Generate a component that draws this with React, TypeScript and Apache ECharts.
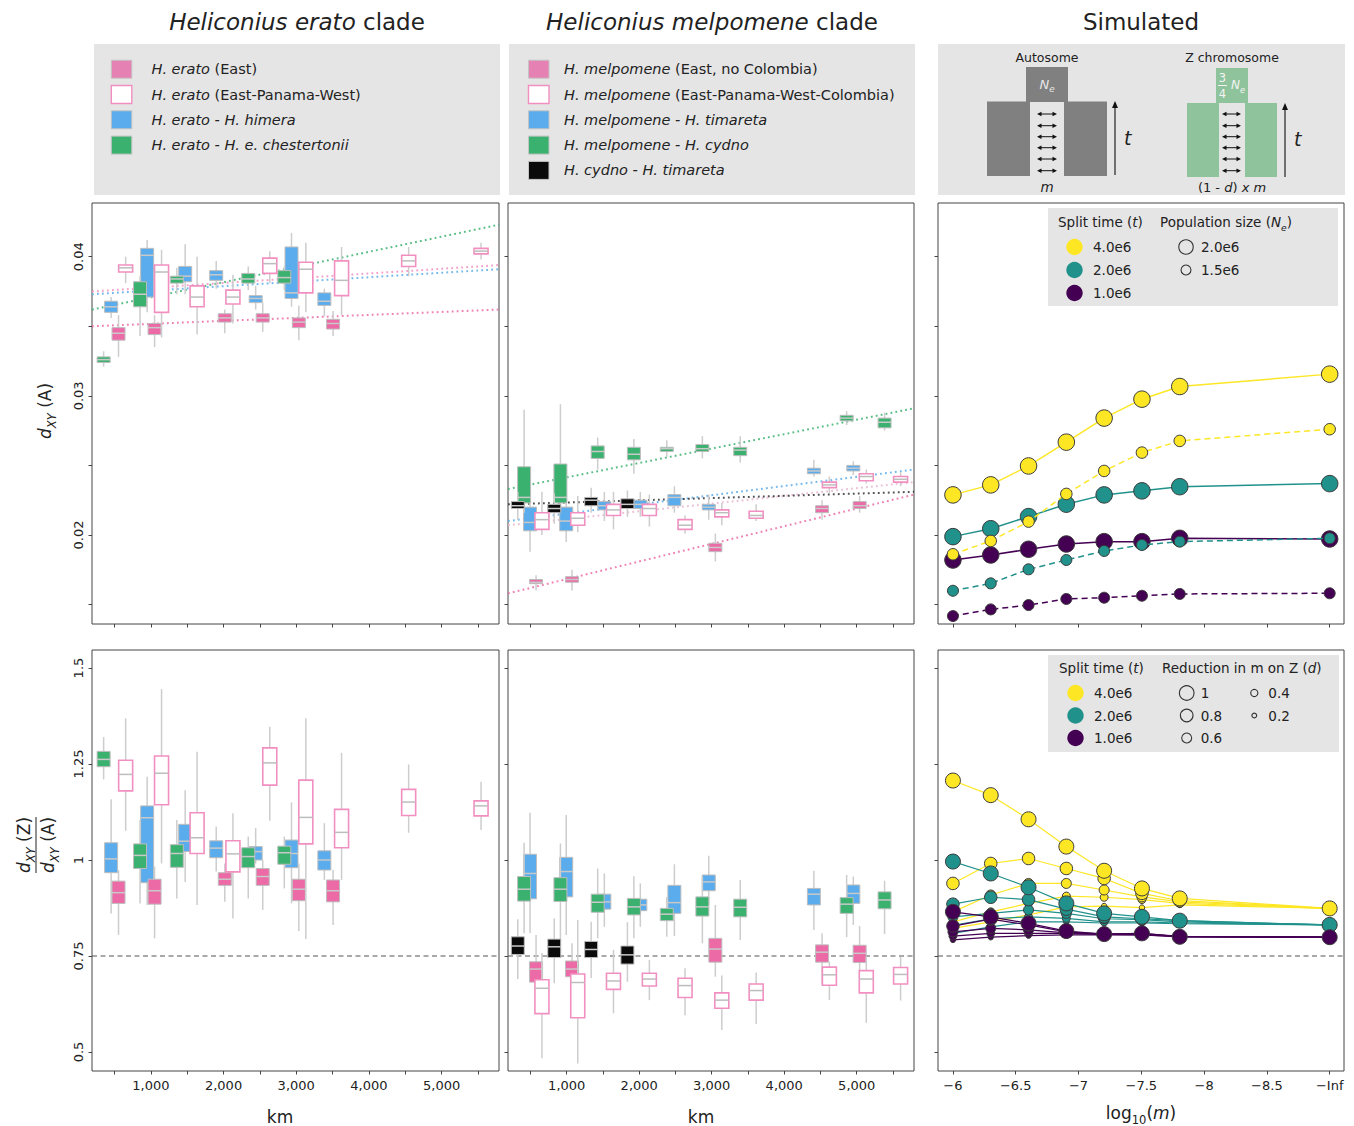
import React, { useEffect, useRef } from 'react';
import * as echarts from 'echarts';

const FONT = 'DejaVu Sans';
const TXT = '#222222';

// ---------- axes ----------
const KM_MIN = 190;
const KM_MAX = 5790;
const kmTicks = [500, 1000, 1500, 2000, 2500, 3000, 3500, 4000, 4500, 5000, 5500];
const kmLabels = [1000, 2000, 3000, 4000, 5000];
const A_MIN = 0.0136;
const A_MAX = 0.04386;
const aTicks = [0.015, 0.02, 0.025, 0.03, 0.035, 0.04];
const aLabels = [0.02, 0.03, 0.04];
const R_MIN = 0.4505;
const R_MAX = 1.547;
const rTicks = [0.5, 0.75, 1, 1.25, 1.5];
const R_REF = 0.75;
const M_MIN = -9.114;
const M_MAX = -5.881;
const mTicks = [-6, -6.5, -7, -7.5, -8, -8.5, -9];
const M_INF = -9; // position of the "-Inf" tick (m = 0)

// ---------- H. erato clade (km, [low, q1, median, q3, high]) ----------
const eratoChestKm = [350, 851, 1357, 2340, 2836];
const eratoChestA = [[0.0321,0.0324,0.0326,0.0328,0.0332],[0.0343,0.0364,0.0373,0.0382,0.0386],[0.0373,0.0381,0.0384,0.0386,0.0392],[0.0376,0.0381,0.0384,0.0388,0.0393],[0.0376,0.0381,0.0385,0.0390,0.0393]];
const eratoChestZ = [[1.210,1.243,1.262,1.283,1.320],[0.887,0.978,1.012,1.042,1.104],[0.900,0.981,1.017,1.040,1.104],[0.900,0.980,1.009,1.032,1.061],[0.926,0.989,1.019,1.036,1.061]];

const eratoHimeraKm = [453, 949, 1472, 1899, 2442, 2935, 3387];
const eratoHimeraA = [[0.0356,0.0360,0.0364,0.0368,0.0371],[0.0360,0.0371,0.0401,0.0406,0.0412],[0.0373,0.0382,0.0386,0.0393,0.0409],[0.0377,0.0383,0.0387,0.0390,0.0397],[0.0362,0.0367,0.0370,0.0372,0.0379],[0.0364,0.0370,0.0374,0.0407,0.0417],[0.0357,0.0365,0.0368,0.0374,0.0377]];
const eratoHimeraZ = [[0.861,0.967,1.003,1.045,1.158],[0.883,0.941,1.110,1.141,1.217],[0.943,1.022,1.049,1.093,1.182],[0.970,1.006,1.031,1.050,1.087],[0.991,1.000,1.022,1.035,1.083],[0.887,0.980,1.017,1.052,1.150],[0.948,0.974,1.000,1.024,1.096]];

const eratoEastKm = [555, 1051, 2017, 2539, 3036, 3507];
const eratoEastA = [[0.0328,0.0340,0.0345,0.0349,0.0358],[0.0335,0.0344,0.0349,0.0352,0.0358],[0.0345,0.0353,0.0356,0.0359,0.0362],[0.0346,0.0353,0.0356,0.0359,0.0367],[0.0340,0.0349,0.0353,0.0356,0.0365],[0.0343,0.0348,0.0352,0.0355,0.0361]];
const eratoEastZ = [[0.805,0.887,0.915,0.945,0.974],[0.796,0.885,0.920,0.950,0.983],[0.891,0.934,0.950,0.967,0.991],[0.870,0.934,0.957,0.978,1.000],[0.815,0.894,0.924,0.950,0.991],[0.831,0.891,0.920,0.948,0.974]];

const eratoEPWKm = [653, 1147, 1636, 2129, 2636, 3132, 3624, 4547, 5543];
const eratoEPWA = [[0.0381,0.0389,0.0392,0.0394,0.0400],[0.0342,0.0360,0.0389,0.0394,0.0405],[0.0344,0.0364,0.0371,0.0379,0.0400],[0.0352,0.0366,0.0371,0.0376,0.0387],[0.0381,0.0388,0.0395,0.0399,0.0404],[0.0360,0.0374,0.0391,0.0396,0.0410],[0.0358,0.0372,0.0383,0.0397,0.0407],[0.0386,0.0393,0.0397,0.0401,0.0407],[0.0398,0.0402,0.0404,0.0406,0.0410]];
const eratoEPWZ = [[1.076,1.180,1.223,1.260,1.369],[0.991,1.144,1.226,1.271,1.445],[0.883,1.017,1.058,1.123,1.282],[0.848,0.969,1.016,1.050,1.122],[1.102,1.195,1.253,1.292,1.347],[0.794,1.042,1.111,1.208,1.369],[0.948,1.032,1.072,1.132,1.279],[1.071,1.116,1.151,1.184,1.249],[1.078,1.115,1.141,1.154,1.204]];

// regression lines (value at KM_MIN, value at KM_MAX)
const eratoTrendChest = [0.0362, 0.0423];
const eratoTrendEPW = [0.0375, 0.0394];
const eratoTrendHimera = [0.0373, 0.0391];
const eratoTrendEast = [0.0350, 0.0362];

// ---------- H. melpomene clade ----------
const cydTimKm = [325, 828, 1337, 1837];
const cydTimA = [[0.0211,0.0219,0.0221,0.0224,0.0231],[0.0208,0.0216,0.0219,0.0222,0.0230],[0.0216,0.0221,0.0225,0.0227,0.0234],[0.0213,0.0219,0.0222,0.0226,0.0232]];
const cydTimZ = [[0.690,0.754,0.776,0.800,0.846],[0.679,0.746,0.774,0.794,0.848],[0.693,0.746,0.767,0.788,0.839],[0.683,0.729,0.753,0.776,0.838]];

const melCydKm = [412, 913, 1427, 1926, 2380, 2871, 3393, 4861, 5384];
const melCydA = [[0.0216,0.0223,0.0227,0.0249,0.0290],[0.0217,0.0223,0.0227,0.0251,0.0294],[0.0247,0.0255,0.0260,0.0264,0.0270],[0.0244,0.0254,0.0258,0.0263,0.0269],[0.0256,0.0260,0.0262,0.0263,0.0268],[0.0255,0.0260,0.0262,0.0265,0.0271],[0.0252,0.0257,0.0261,0.0263,0.0271],[0.0279,0.0282,0.0284,0.0286,0.0289],[0.0275,0.0277,0.0281,0.0284,0.0288]];
const melCydZ = [[0.809,0.893,0.924,0.957,1.045],[0.792,0.892,0.924,0.954,1.043],[0.796,0.864,0.890,0.911,0.978],[0.796,0.857,0.878,0.900,0.958],[0.800,0.842,0.859,0.874,0.904],[0.783,0.854,0.878,0.904,0.957],[0.792,0.852,0.877,0.898,0.948],[0.799,0.861,0.885,0.902,0.961],[0.807,0.873,0.896,0.917,0.946]];

const melTimKm = [494, 993, 1519, 2015, 2485, 2959, 4409, 4953];
const melTimA = [[0.0188,0.0203,0.0209,0.0220,0.0231],[0.0195,0.0203,0.0210,0.0220,0.0229],[0.0210,0.0218,0.0221,0.0224,0.0231],[0.0213,0.0219,0.0222,0.0225,0.0231],[0.0216,0.0221,0.0227,0.0229,0.0235],[0.0211,0.0218,0.0220,0.0222,0.0229],[0.0242,0.0244,0.0246,0.0248,0.0254],[0.0243,0.0246,0.0248,0.0250,0.0253]];
const melTimZ = [[0.810,0.899,0.965,1.015,1.123],[0.805,0.904,0.970,1.007,1.117],[0.826,0.872,0.891,0.911,0.965],[0.826,0.868,0.883,0.898,0.939],[0.802,0.861,0.889,0.934,0.989],[0.883,0.920,0.943,0.961,1.011],[0.818,0.883,0.911,0.926,0.972],[0.831,0.887,0.913,0.935,0.957]];

const melEastKm = [577, 1073, 3050, 4522, 5040];
const melEastA = [[0.0160,0.0165,0.0166,0.0168,0.0171],[0.0160,0.0166,0.0168,0.0170,0.0175],[0.0181,0.0188,0.0191,0.0194,0.0201],[0.0211,0.0216,0.0219,0.0221,0.0225],[0.0216,0.0219,0.0221,0.0224,0.0228]];
const melEastZ = [[0.635,0.682,0.716,0.735,0.805],[0.644,0.696,0.716,0.737,0.783],[0.696,0.734,0.768,0.796,0.883],[0.676,0.734,0.760,0.779,0.809],[0.661,0.733,0.757,0.778,0.828]];

const melEPWCKm = [658, 1152, 1645, 2140, 2632, 3139, 3613, 4623, 5132, 5605];
const melEPWCA = [[0.0200,0.0204,0.0211,0.0216,0.0231],[0.0202,0.0207,0.0212,0.0216,0.0228],[0.0204,0.0214,0.0218,0.0222,0.0231],[0.0206,0.0214,0.0219,0.0222,0.0229],[0.0201,0.0204,0.0207,0.0211,0.0214],[0.0207,0.0213,0.0216,0.0218,0.0223],[0.0210,0.0212,0.0214,0.0217,0.0222],[0.0230,0.0234,0.0236,0.0238,0.0242],[0.0237,0.0239,0.0242,0.0244,0.0247],[0.0235,0.0238,0.0240,0.0242,0.0245]];
const melEPWCZ = [[0.484,0.600,0.666,0.688,0.758],[0.470,0.589,0.681,0.703,0.844],[0.601,0.663,0.685,0.705,0.766],[0.635,0.672,0.690,0.705,0.740],[0.596,0.642,0.673,0.692,0.718],[0.557,0.614,0.635,0.654,0.699],[0.573,0.635,0.660,0.677,0.707],[0.635,0.674,0.701,0.721,0.735],[0.576,0.654,0.690,0.712,0.748],[0.634,0.677,0.702,0.720,0.748]];

const melTrendCyd = [0.0233, 0.0291];
const melTrendTim = [0.0210, 0.0247];
const melTrendEPWC = [0.0207, 0.0238];
const melTrendCydTim = [0.0222, 0.0231];
const melTrendEast = [0.0158, 0.0229];

// ---------- Simulated ----------
const logM = [-6, -6.301, -6.602, -6.903, -7.204, -7.505, -7.806, M_INF];
const splitTimes = ['4.0e6', '2.0e6', '1.0e6'];
const aT4Ne20 = [0.02288, 0.0236, 0.02496, 0.02667, 0.0284, 0.02976, 0.03067, 0.03156];
const aT4Ne15 = [0.01861, 0.01957, 0.02096, 0.02295, 0.0246, 0.02592, 0.02676, 0.0276];
const aT2Ne20 = [0.01988, 0.02045, 0.02132, 0.02221, 0.02288, 0.02317, 0.02347, 0.02369];
const aT2Ne15 = [0.01599, 0.01652, 0.01753, 0.0182, 0.01885, 0.01928, 0.01952, 0.01976];
const aT1Ne20 = [0.0182, 0.01856, 0.01897, 0.01935, 0.01952, 0.01952, 0.01976, 0.01971];
const aT1Ne15 = [0.01417, 0.01465, 0.01496, 0.0154, 0.01549, 0.01563, 0.01576, 0.01581];

const dValues = ['1', '0.8', '0.6', '0.4', '0.2'];
const rT4 = [
  [1.207, 1.169, 1.106, 1.035, 0.972, 0.926, 0.900, 0.874],
  [0.939, 0.991, 1.004, 0.978, 0.952, 0.913, 0.894, 0.874],
  [0.865, 0.909, 0.939, 0.939, 0.922, 0.904, 0.891, 0.874],
  [0.839, 0.865, 0.887, 0.906, 0.903, 0.897, 0.887, 0.874],
  [0.822, 0.839, 0.857, 0.878, 0.880, 0.876, 0.883, 0.874],
];
const rT2 = [
  [0.996, 0.965, 0.929, 0.887, 0.861, 0.852, 0.842, 0.831],
  [0.885, 0.903, 0.897, 0.872, 0.852, 0.847, 0.842, 0.831],
  [0.852, 0.861, 0.870, 0.861, 0.847, 0.845, 0.839, 0.831],
  [0.830, 0.847, 0.852, 0.848, 0.839, 0.839, 0.836, 0.831],
  [0.809, 0.826, 0.839, 0.839, 0.836, 0.836, 0.834, 0.831],
];
const rT1 = [
  [0.865, 0.852, 0.835, 0.815, 0.807, 0.809, 0.800, 0.799],
  [0.828, 0.846, 0.831, 0.813, 0.807, 0.809, 0.801, 0.799],
  [0.813, 0.822, 0.818, 0.810, 0.807, 0.807, 0.801, 0.799],
  [0.802, 0.809, 0.809, 0.809, 0.806, 0.805, 0.801, 0.799],
  [0.792, 0.799, 0.803, 0.805, 0.805, 0.805, 0.800, 0.799],
];

// ---------- styles ----------
const C_PINK = '#ec6aa6';
const C_PINK_LEG = '#e581b3';
const C_PINK_OPEN = '#f28fc1';
const C_BLUE = '#5aacec';
const C_GREEN = '#3bb16f';
const C_BLACK = '#0a0a0a';
const V_YEL = '#fde725';
const V_TEAL = '#21918c';
const V_PURP = '#440154';
const tColors = [V_YEL, V_TEAL, V_PURP];
const dSizes = [15, 12.5, 10, 8, 5.5];

const BOX = {
  pinkFill: { fill: C_PINK, stroke: '#bdbdbd', lw: 1, w: 13, median: '#c9c9c9' },
  pinkOpen: { fill: '#ffffff', stroke: C_PINK_OPEN, lw: 1.6, w: 14, median: '#bdbdbd' },
  blue: { fill: C_BLUE, stroke: '#bdbdbd', lw: 1, w: 13, median: '#c9c9c9' },
  green: { fill: C_GREEN, stroke: '#bdbdbd', lw: 1, w: 13, median: '#c9c9c9' },
  black: { fill: C_BLACK, stroke: '#bdbdbd', lw: 1, w: 13, median: '#c9c9c9' },
};

const GRIDS = [
  { left: 92, top: 203, width: 407, height: 421 },
  { left: 508, top: 203, width: 406, height: 421 },
  { left: 938, top: 203, width: 406, height: 421 },
  { left: 92, top: 650, width: 407, height: 421 },
  { left: 508, top: 650, width: 406, height: 421 },
  { left: 938, top: 650, width: 406, height: 421 },
];

const makeBox = (st: any) => (_p: any, api: any) => {
  const x = api.value(0);
  const lo = api.coord([x, api.value(1)]);
  const q1 = api.coord([x, api.value(2)]);
  const md = api.coord([x, api.value(3)]);
  const q3 = api.coord([x, api.value(4)]);
  const hi = api.coord([x, api.value(5)]);
  const cx = lo[0];
  const hw = st.w / 2;
  return {
    type: 'group',
    children: [
      { type: 'line', shape: { x1: cx, y1: hi[1], x2: cx, y2: lo[1] }, style: { stroke: '#cdcdcd', lineWidth: 1.5 } },
      { type: 'rect', shape: { x: cx - hw, y: q3[1], width: st.w, height: Math.max(q1[1] - q3[1], 1) }, style: { fill: st.fill, stroke: st.stroke, lineWidth: st.lw } },
      { type: 'line', shape: { x1: cx - hw, y1: md[1], x2: cx + hw, y2: md[1] }, style: { stroke: st.median, lineWidth: 1.5 } },
    ],
  };
};

const boxSeries = (axis: number, km: number[], vals: number[][], kind: keyof typeof BOX) => ({
  type: 'custom',
  xAxisIndex: axis,
  yAxisIndex: axis,
  clip: true,
  silent: true,
  data: km.map((k, i) => [k, ...vals[i]]),
  encode: { x: 0, y: [1, 2, 3, 4, 5] },
  renderItem: makeBox(BOX[kind]),
});

const trendSeries = (axis: number, ends: number[], color: string) => ({
  type: 'line',
  xAxisIndex: axis,
  yAxisIndex: axis,
  silent: true,
  showSymbol: false,
  symbol: 'none',
  data: [[KM_MIN, ends[0]], [KM_MAX, ends[1]]],
  lineStyle: { color, width: 2, type: [1.8, 3.2], opacity: 0.85 },
  z: 1,
});

const refLine = (axis: number, x0: number, x1: number) => ({
  type: 'line',
  xAxisIndex: axis,
  yAxisIndex: axis,
  silent: true,
  symbol: 'none',
  data: [[x0, R_REF], [x1, R_REF]],
  lineStyle: { color: '#555555', width: 1.2, type: [5, 3.5] },
  z: 1,
});

const simSeries = (axis: number, vals: number[], color: string, size: number, dashed: boolean, lw: number, z: number) => ({
  type: 'line',
  xAxisIndex: axis,
  yAxisIndex: axis,
  silent: true,
  data: logM.map((m, i) => [m, vals[i]]),
  symbol: 'circle',
  symbolSize: size,
  showSymbol: true,
  lineStyle: { color, width: lw, type: dashed ? [6, 4] : 'solid' },
  itemStyle: { color, borderColor: '#3a3a3a', borderWidth: 1 },
  z,
});

const kmX = (grid: number, labels: boolean) => ({
  type: 'value', gridIndex: grid, min: KM_MIN, max: KM_MAX,
  axisLine: { show: false }, splitLine: { show: false },
  axisTick: { show: true, customValues: kmTicks, length: 3.5, lineStyle: { color: '#444' } },
  axisLabel: { show: labels, customValues: kmLabels, fontSize: 13, color: TXT, fontFamily: FONT, margin: 8,
    formatter: (v: number) => Math.round(v).toLocaleString('en-US') },
});
const mX = (grid: number, labels: boolean) => ({
  type: 'value', gridIndex: grid, min: M_MIN, max: M_MAX, inverse: true,
  axisLine: { show: false }, splitLine: { show: false },
  axisTick: { show: true, customValues: mTicks, length: 3.5, lineStyle: { color: '#444' } },
  axisLabel: { show: labels, customValues: mTicks, fontSize: 13, color: TXT, fontFamily: FONT, margin: 8,
    formatter: (v: number) => (v === M_INF ? '\u2212Inf' : '\u2212' + String(Math.abs(v))) },
});
const aY = (grid: number, labels: boolean) => ({
  type: 'value', gridIndex: grid, min: A_MIN, max: A_MAX,
  axisLine: { show: false }, splitLine: { show: false },
  axisTick: { show: true, customValues: aTicks, length: 3.5, lineStyle: { color: '#444' } },
  axisLabel: { show: labels, customValues: aLabels, rotate: 90, fontSize: 13, color: TXT, fontFamily: FONT, margin: 7,
    formatter: (v: number) => String(+v.toFixed(3)) },
});
const rY = (grid: number, labels: boolean) => ({
  type: 'value', gridIndex: grid, min: R_MIN, max: R_MAX,
  axisLine: { show: false }, splitLine: { show: false },
  axisTick: { show: true, customValues: rTicks, length: 3.5, lineStyle: { color: '#444' } },
  axisLabel: { show: labels, customValues: rTicks, rotate: 90, fontSize: 13, color: TXT, fontFamily: FONT, margin: 7,
    formatter: (v: number) => String(+v.toFixed(2)) },
});

// ---------- graphic helpers ----------
const tok = (size: number, extra: any = {}) => ({ fontSize: size, fontFamily: FONT, fill: extra.fill || TXT, ...extra });
const richSet = (size: number, fill: string = TXT) => ({
  i: tok(size, { fontStyle: 'italic', fill, lineHeight: size * 1.5 }),
  n: tok(size, { fill, lineHeight: size * 1.5 }),
  s: tok(size * 0.68, { fill, lineHeight: size * 0.68, verticalAlign: 'bottom' }),
  si: tok(size * 0.68, { fill, fontStyle: 'italic', lineHeight: size * 0.68, verticalAlign: 'bottom' }),
});
const txt = (x: number, y: number, text: string, size: number, opt: any = {}) => ({
  type: 'text', x, y, z: 30, rotation: opt.rotation || 0,
  style: {
    text, rich: richSet(size, opt.fill || TXT), fontSize: size, fontFamily: FONT, fill: opt.fill || TXT,
    fontStyle: opt.italic ? 'italic' : 'normal', lineHeight: size * 1.5,
    align: opt.align || 'left', verticalAlign: 'middle',
  },
});

const eratoLegend: [keyof typeof BOX, string][] = [
  ['pinkFill', '{i|H. erato} (East)'],
  ['pinkOpen', '{i|H. erato} (East-Panama-West)'],
  ['blue', '{i|H. erato - H. himera}'],
  ['green', '{i|H. erato - H. e. chestertonii}'],
];
const melLegend: [keyof typeof BOX, string][] = [
  ['pinkFill', '{i|H. melpomene} (East, no Colombia)'],
  ['pinkOpen', '{i|H. melpomene} (East-Panama-West-Colombia)'],
  ['blue', '{i|H. melpomene - H. timareta}'],
  ['green', '{i|H. melpomene - H. cydno}'],
  ['black', '{i|H. cydno - H. timareta}'],
];
const LEG_ROW0 = 69.2;
const LEG_STEP = 25.3;

const legendItems = (entries: [keyof typeof BOX, string][], sqX: number, txX: number) => {
  const out: any[] = [];
  entries.forEach(([kind, label], i) => {
    const cy = LEG_ROW0 + i * LEG_STEP;
    const st = BOX[kind];
    const fill = kind === 'pinkFill' ? C_PINK_LEG : st.fill;
    out.push({ type: 'rect', z: 20, shape: { x: sqX, y: cy - 9, width: 20.5, height: 18 },
      style: { fill, stroke: kind === 'pinkOpen' ? C_PINK_OPEN : '#c4c4c4', lineWidth: kind === 'pinkOpen' ? 1.4 : 1 } });
    out.push(txt(txX, cy, label, 14.5));
  });
  return out;
};

const arrowYs = [114, 125.7, 136.7, 147.7, 159, 170.7];
const dblArrow = (x1: number, x2: number, y: number) => [
  { type: 'line', z: 22, shape: { x1: x1 + 3, y1: y, x2: x2 - 3, y2: y }, style: { stroke: '#111', lineWidth: 1 } },
  { type: 'polygon', z: 22, shape: { points: [[x1, y], [x1 + 4.5, y - 2.3], [x1 + 4.5, y + 2.3]] }, style: { fill: '#111' } },
  { type: 'polygon', z: 22, shape: { points: [[x2, y], [x2 - 4.5, y - 2.3], [x2 - 4.5, y + 2.3]] }, style: { fill: '#111' } },
];
const upArrow = (x: number, yTop: number, yBot: number) => [
  { type: 'line', z: 22, shape: { x1: x, y1: yBot, x2: x, y2: yTop + 5 }, style: { stroke: '#111', lineWidth: 1.1 } },
  { type: 'polygon', z: 22, shape: { points: [[x, yTop], [x - 3, yTop + 7], [x + 3, yTop + 7]] }, style: { fill: '#111' } },
];

const diagram = () => {
  const g: any[] = [];
  const GREY = '#808080';
  const GRN = '#8fc39b';
  // autosome
  g.push({ type: 'rect', z: 21, shape: { x: 1026, y: 67, width: 42, height: 35 }, style: { fill: GREY } });
  g.push({ type: 'rect', z: 21, shape: { x: 987, y: 101.5, width: 43, height: 74.5 }, style: { fill: GREY } });
  g.push({ type: 'rect', z: 21, shape: { x: 1064, y: 101.5, width: 43, height: 74.5 }, style: { fill: GREY } });
  g.push(txt(1047, 84, '{i|N}{si|e}', 13, { align: 'center', fill: '#e6e6e6' }));
  arrowYs.forEach((y) => g.push(...dblArrow(1037, 1057, y)));
  g.push(...upArrow(1115, 101, 175));
  g.push(txt(1124, 138, '{i|t}', 19));
  g.push(txt(1047, 57, 'Autosome', 12.5, { align: 'center' }));
  g.push(txt(1047, 187, '{i|m}', 13.5, { align: 'center' }));
  // Z chromosome
  g.push({ type: 'rect', z: 21, shape: { x: 1216, y: 68, width: 32, height: 35 }, style: { fill: GRN } });
  g.push({ type: 'rect', z: 21, shape: { x: 1187, y: 103, width: 32, height: 74 }, style: { fill: GRN } });
  g.push({ type: 'rect', z: 21, shape: { x: 1245, y: 103, width: 32, height: 74 }, style: { fill: GRN } });
  g.push(txt(1222.5, 78, '3', 11.5, { align: 'center', fill: '#f4f4f4' }));
  g.push({ type: 'line', z: 22, shape: { x1: 1218, y1: 85.5, x2: 1227, y2: 85.5 }, style: { stroke: '#f4f4f4', lineWidth: 1 } });
  g.push(txt(1222.5, 93.5, '4', 11.5, { align: 'center', fill: '#f4f4f4' }));
  g.push(txt(1238, 85, '{i|N}{si|e}', 12, { align: 'center', fill: '#f4f4f4' }));
  arrowYs.forEach((y) => g.push(...dblArrow(1222, 1241, y)));
  g.push(...upArrow(1285, 103, 177));
  g.push(txt(1294, 139, '{i|t}', 19));
  g.push(txt(1232, 57, 'Z chromosome', 12.5, { align: 'center' }));
  g.push(txt(1232, 187, '(1 - {i|d}) {i|x m}', 13, { align: 'center' }));
  return g;
};

const simLegendTop = () => {
  const g: any[] = [];
  g.push({ type: 'rect', z: 20, shape: { x: 1048, y: 208, width: 290, height: 98 }, style: { fill: '#e5e5e5' } });
  g.push(txt(1058, 222, 'Split time ({i|t})', 13.5));
  g.push(txt(1160, 222, 'Population size ({i|N}{si|e})', 13.5));
  splitTimes.forEach((t, i) => {
    const cy = 247 + i * 23;
    g.push({ type: 'circle', z: 21, shape: { cx: 1074.5, cy, r: 8.2 }, style: { fill: tColors[i] } });
    g.push(txt(1093, cy, t, 13.5));
  });
  g.push({ type: 'circle', z: 21, shape: { cx: 1186, cy: 247, r: 7.2 }, style: { fill: 'none', stroke: '#333', lineWidth: 1.1 } });
  g.push(txt(1201, 247, '2.0e6', 13.5));
  g.push({ type: 'circle', z: 21, shape: { cx: 1186, cy: 270, r: 5 }, style: { fill: 'none', stroke: '#333', lineWidth: 1.1 } });
  g.push(txt(1201, 270, '1.5e6', 13.5));
  return g;
};

const simLegendBottom = () => {
  const g: any[] = [];
  g.push({ type: 'rect', z: 20, shape: { x: 1048, y: 655, width: 291, height: 97 }, style: { fill: '#e5e5e5' } });
  g.push(txt(1059, 667.5, 'Split time ({i|t})', 13.5));
  g.push(txt(1162, 667.5, 'Reduction in m on Z ({i|d})', 13.5));
  splitTimes.forEach((t, i) => {
    const cy = 693 + i * 22.5;
    g.push({ type: 'circle', z: 21, shape: { cx: 1075.5, cy, r: 8.2 }, style: { fill: tColors[i] } });
    g.push(txt(1094, cy, t, 13.5));
  });
  const legR = [7.3, 6.3, 5, 3.6, 2.4];
  dValues.forEach((d, j) => {
    const col = j < 3 ? 0 : 1;
    const row = j < 3 ? j : j - 3;
    const cx = col === 0 ? 1186.7 : 1254.3;
    const cy = 693 + row * 22.5;
    g.push({ type: 'circle', z: 21, shape: { cx, cy, r: legR[j] }, style: { fill: 'none', stroke: '#333', lineWidth: 1.1 } });
    g.push(txt(cx + 14, cy, d, 13.5));
  });
  return g;
};

export default function App() {
  const ref = useRef<HTMLDivElement>(null);
  useEffect(() => {
    if (!ref.current) return;
    const chart = echarts.init(ref.current, undefined, { renderer: 'svg' });

    const series: any[] = [];
    // dashed reference lines
    series.push(refLine(3, KM_MIN, KM_MAX), refLine(4, KM_MIN, KM_MAX), refLine(5, M_MAX, M_MIN));
    // erato trends
    series.push(trendSeries(0, eratoTrendChest, C_GREEN), trendSeries(0, eratoTrendEPW, C_PINK_OPEN),
      trendSeries(0, eratoTrendHimera, C_BLUE), trendSeries(0, eratoTrendEast, C_PINK));
    // melpomene trends
    series.push(trendSeries(1, melTrendCyd, C_GREEN), trendSeries(1, melTrendTim, C_BLUE),
      trendSeries(1, melTrendEPWC, '#e8b4cf'), trendSeries(1, melTrendCydTim, '#333333'), trendSeries(1, melTrendEast, C_PINK));
    // erato boxes
    [[0, 'A'], [3, 'Z']].forEach(([ax, k]) => {
      const a = ax as number;
      series.push(boxSeries(a, eratoHimeraKm, k === 'A' ? eratoHimeraA : eratoHimeraZ, 'blue'));
      series.push(boxSeries(a, eratoChestKm, k === 'A' ? eratoChestA : eratoChestZ, 'green'));
      series.push(boxSeries(a, eratoEastKm, k === 'A' ? eratoEastA : eratoEastZ, 'pinkFill'));
      series.push(boxSeries(a, eratoEPWKm, k === 'A' ? eratoEPWA : eratoEPWZ, 'pinkOpen'));
    });
    [[1, 'A'], [4, 'Z']].forEach(([ax, k]) => {
      const a = ax as number;
      series.push(boxSeries(a, melTimKm, k === 'A' ? melTimA : melTimZ, 'blue'));
      series.push(boxSeries(a, melCydKm, k === 'A' ? melCydA : melCydZ, 'green'));
      series.push(boxSeries(a, cydTimKm, k === 'A' ? cydTimA : cydTimZ, 'black'));
      series.push(boxSeries(a, melEastKm, k === 'A' ? melEastA : melEastZ, 'pinkFill'));
      series.push(boxSeries(a, melEPWCKm, k === 'A' ? melEPWCA : melEPWCZ, 'pinkOpen'));
    });
    // simulated autosome
    series.push(simSeries(2, aT4Ne20, V_YEL, 16.5, false, 1.5, 3));
    series.push(simSeries(2, aT2Ne20, V_TEAL, 16.5, false, 1.5, 3));
    series.push(simSeries(2, aT1Ne20, V_PURP, 16.5, false, 1.5, 3));
    series.push(simSeries(2, aT4Ne15, V_YEL, 11.5, true, 1.5, 4));
    series.push(simSeries(2, aT2Ne15, V_TEAL, 11, true, 1.5, 4));
    series.push(simSeries(2, aT1Ne15, V_PURP, 11, true, 1.5, 4));
    // simulated ratio (smaller d first so the d = 1 markers sit on top)
    [rT4, rT2, rT1].forEach((rows, ti) => {
      for (let j = rows.length - 1; j >= 0; j--) {
        series.push(simSeries(5, rows[j], tColors[ti], dSizes[j], false, 1.2, 3 + ti));
      }
    });

    const graphic: any[] = [];
    // titles
    graphic.push(txt(297, 22, '{i|Heliconius erato} clade', 23, { align: 'center' }));
    graphic.push(txt(712, 22, '{i|Heliconius melpomene} clade', 23, { align: 'center' }));
    graphic.push(txt(1141, 22, 'Simulated', 23, { align: 'center' }));
    // legend panels
    graphic.push({ type: 'rect', z: 19, shape: { x: 94, y: 44, width: 406, height: 151 }, style: { fill: '#e5e5e5' } });
    graphic.push({ type: 'rect', z: 19, shape: { x: 509, y: 44, width: 406, height: 151 }, style: { fill: '#e5e5e5' } });
    graphic.push({ type: 'rect', z: 19, shape: { x: 938, y: 44, width: 407, height: 151 }, style: { fill: '#e5e5e5' } });
    graphic.push(...legendItems(eratoLegend, 111.3, 151.5));
    graphic.push(...legendItems(melLegend, 528.5, 564));
    graphic.push(...diagram());
    graphic.push(...simLegendTop());
    graphic.push(...simLegendBottom());
    // axis titles
    graphic.push(txt(45, 411, '{i|d}{si|XY} (A)', 17, { align: 'center', rotation: Math.PI / 2 }));
    graphic.push({
      type: 'group', x: 36, y: 845, rotation: Math.PI / 2, z: 30,
      children: [
        txt(0, -12, '{i|d}{si|XY} (Z)', 17, { align: 'center' }),
        { type: 'line', z: 30, shape: { x1: -28, y1: 0, x2: 28, y2: 0 }, style: { stroke: TXT, lineWidth: 1 } },
        txt(0, 12, '{i|d}{si|XY} (A)', 17, { align: 'center' }),
      ],
    });
    graphic.push(txt(280, 1117, 'km', 17, { align: 'center' }));
    graphic.push(txt(701, 1117, 'km', 17, { align: 'center' }));
    graphic.push(txt(1141, 1113, 'log{s|10}({i|m})', 17, { align: 'center' }));

    const option: any = {
      animation: false,
      backgroundColor: '#ffffff',
      textStyle: { fontFamily: FONT },
      grid: GRIDS.map((g) => ({ ...g, show: true, borderColor: '#444', borderWidth: 1, backgroundColor: 'transparent', containLabel: false, outerBoundsMode: 'none' })),
      xAxis: [kmX(0, false), kmX(1, false), mX(2, false), kmX(3, true), kmX(4, true), mX(5, true)],
      yAxis: [aY(0, true), aY(1, false), aY(2, false), rY(3, true), rY(4, false), rY(5, false)],
      series,
      graphic: { elements: graphic },
    };
    chart.setOption(option);
    return () => chart.dispose();
  }, []);
  return (
    <div
      ref={ref}
      style={{ position: 'absolute', left: 0, top: 0, width: 1354, height: 1126, background: '#fff' }}
    />
  );
}
